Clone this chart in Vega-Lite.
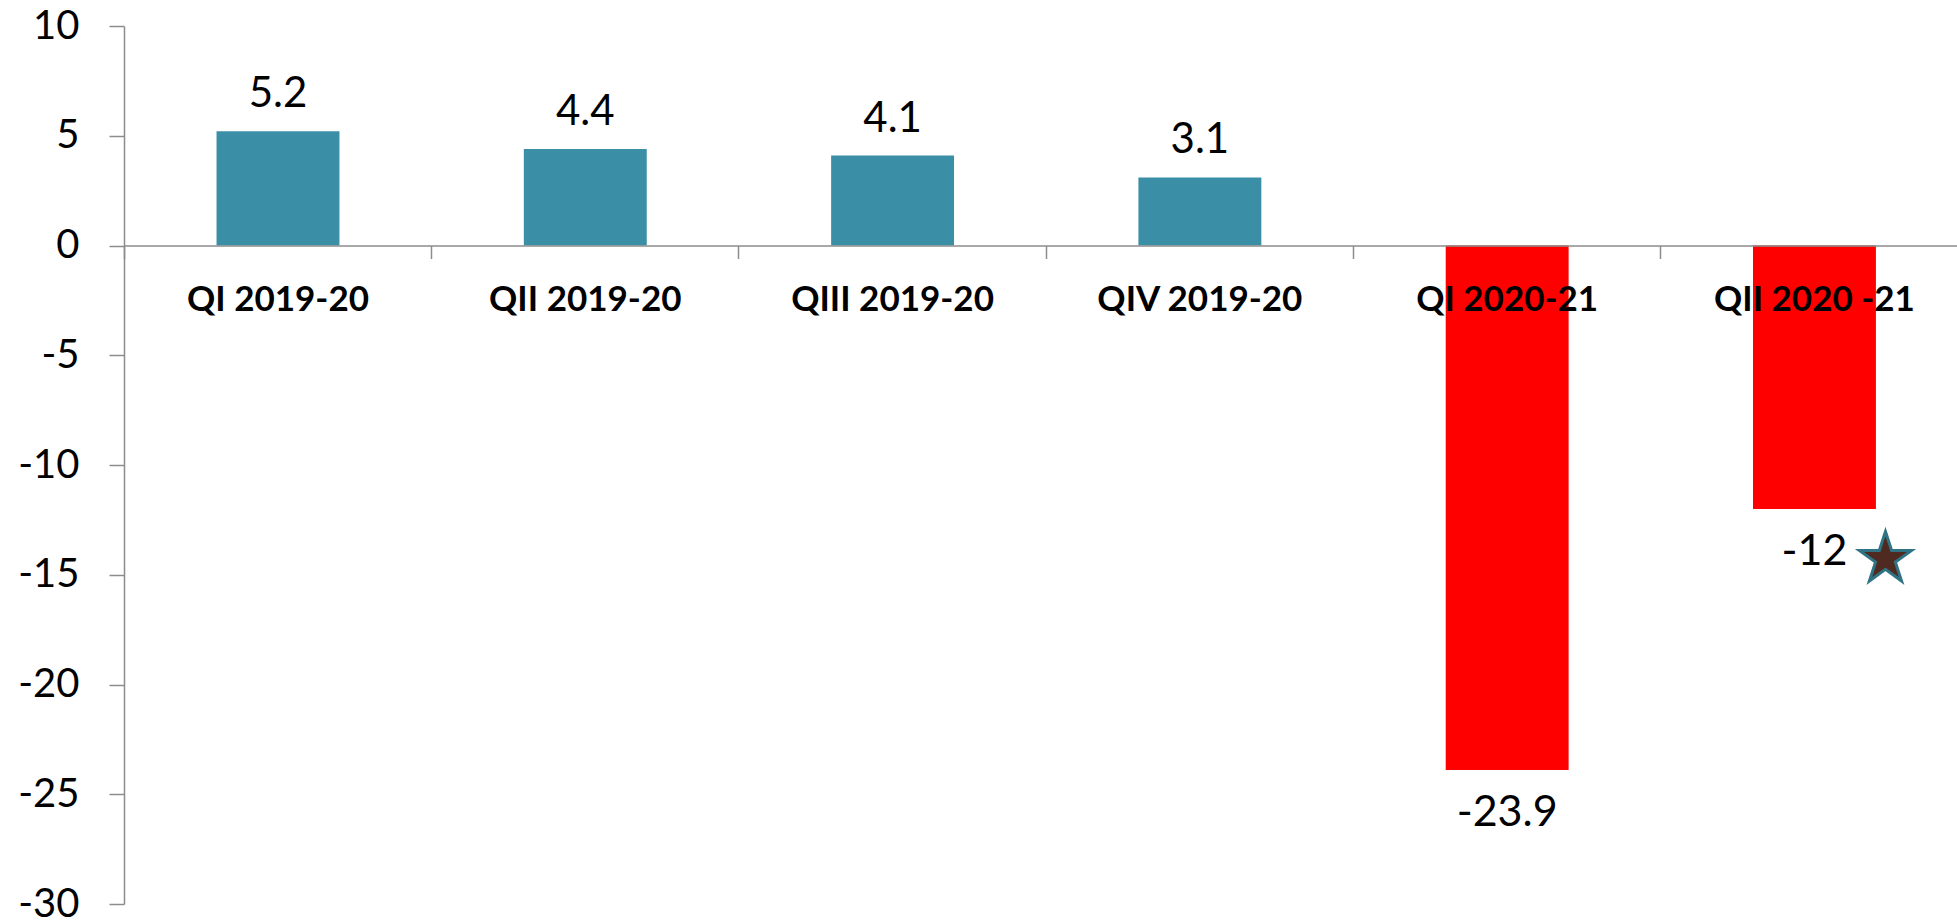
{
  "$schema": "https://vega.github.io/schema/vega-lite/v6.json",
  "width": 1833,
  "height": 878,
  "autosize": {"type": "none"},
  "padding": {"left": 124, "top": 26, "right": 0, "bottom": 18},
  "background": "white",
  "config": {"view": {"stroke": null}, "font": "Lato"},
  "data": {
    "values": [
      {"quarter": "QI 2019-20", "value": 5.2},
      {"quarter": "QII 2019-20", "value": 4.4},
      {"quarter": "QIII 2019-20", "value": 4.1},
      {"quarter": "QIV 2019-20", "value": 3.1},
      {"quarter": "QI 2020-21", "value": -23.9},
      {"quarter": "QII 2020 -21", "value": -12}
    ]
  },
  "encoding": {
    "x": {
      "field": "quarter",
      "type": "nominal",
      "sort": null,
      "scale": {"paddingInner": 0.6, "paddingOuter": 0.2825, "align": 0.533},
      "axis": {
        "title": null,
        "orient": "bottom",
        "offset": -658.5,
        "zindex": 2,
        "domainColor": "#8C8C8C",
        "domainWidth": 1.5,
        "tickColor": "#8C8C8C",
        "tickWidth": 1.5,
        "tickSize": 13,
        "bandPosition": -0.75,
        "labelAngle": 0,
        "labelFont": "Lato",
        "labelFontSize": 35,
        "labelFontWeight": "bold",
        "labelColor": "black",
        "labelBaseline": "alphabetic",
        "labelPadding": 51.5,
        "labelLimit": 0
      }
    },
    "y": {
      "field": "value",
      "type": "quantitative",
      "scale": {"domain": [-30, 10], "nice": false, "zero": false},
      "axis": {
        "title": null,
        "values": [-30, -25, -20, -15, -10, -5, 0, 5, 10],
        "grid": false,
        "zindex": 2,
        "domainColor": "#8C8C8C",
        "domainWidth": 1.5,
        "tickColor": "#8C8C8C",
        "tickWidth": 1.5,
        "tickSize": 15,
        "labelFont": "Lato",
        "labelFontSize": 40,
        "labelColor": "black",
        "labelPadding": 30,
        "labelExpr": "'' + datum.value"
      }
    }
  },
  "layer": [
    {
      "mark": {"type": "bar"},
      "encoding": {
        "color": {"condition": {"test": "datum.value < 0", "value": "#FF0000"}, "value": "#3A8FA6"}
      }
    },
    {
      "transform": [{"filter": "datum.value >= 0"}],
      "mark": {"type": "text", "baseline": "alphabetic", "dy": -24, "fontSize": 42, "font": "Lato", "color": "black"},
      "encoding": {"text": {"field": "value", "type": "nominal"}}
    },
    {
      "transform": [{"filter": "datum.value < 0"}],
      "mark": {"type": "text", "baseline": "top", "dy": 22, "fontSize": 43, "font": "Lato", "color": "black"},
      "encoding": {"text": {"field": "value", "type": "nominal"}}
    },
    {
      "transform": [{"filter": "datum.quarter == 'QII 2020 -21'"}],
      "mark": {
        "type": "point",
        "shape": "M0,-1L0.2245,-0.309L0.951,-0.309L0.3633,0.118L0.5878,0.809L0,0.382L-0.5878,0.809L-0.3633,0.118L-0.951,-0.309L-0.2245,-0.309Z",
        "filled": true,
        "size": 3000,
        "fill": "#4E2A20",
        "stroke": "#2F7385",
        "strokeWidth": 3,
        "opacity": 1,
        "xOffset": 71,
        "yOffset": 50
      }
    }
  ]
}
